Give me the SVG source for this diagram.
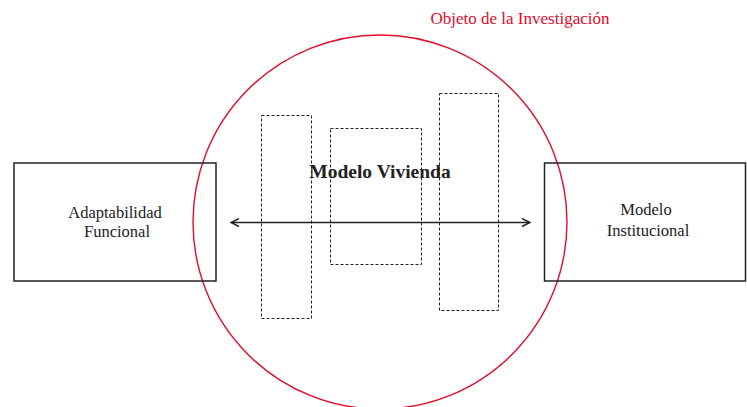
<svg xmlns="http://www.w3.org/2000/svg" width="747" height="407" viewBox="0 0 747 407">
<style>
  .box{fill:none;stroke:#222;stroke-width:1.5}
  .dash{fill:none;stroke:#222;stroke-width:1;stroke-dasharray:3,2}
  .t{font-family:"Liberation Serif","Times New Roman",serif;font-size:16.5px;fill:#222;text-anchor:middle}
  .conn{stroke:#222;stroke-width:1.5;fill:none}
</style>
<defs>
  <marker id="arr" viewBox="0 0 10 10" refX="9" refY="5" markerWidth="10" markerHeight="10" markerUnits="userSpaceOnUse" orient="auto-start-reverse">
    <path d="M1,1 L9,5 L1,9" fill="none" stroke="#222" stroke-width="1.4"/>
  </marker>
</defs>
<g id="objeto">
  <circle cx="380" cy="222" r="187" fill="none" stroke="#e30b2a" stroke-width="1.4"/>
  <text x="520" y="24" class="t" style="fill:#e30b2a;font-size:17px">Objeto de la Investigación</text>
</g>
<g id="modelo-vivienda">
  <rect class="dash" x="261.5" y="115.5" width="50" height="203"/>
  <rect class="dash" x="330.5" y="128.5" width="91" height="136"/>
  <rect class="dash" x="439.5" y="93.5" width="59" height="217"/>
  <text x="380" y="178" class="t" style="font-size:19.5px;font-weight:bold">Modelo Vivienda</text>
</g>
<g id="adaptabilidad">
  <rect class="box" x="14" y="163" width="202" height="118"/>
  <text x="115" y="218" class="t">Adaptabilidad</text>
  <text x="117" y="237" class="t">Funcional</text>
</g>
<g id="institucional">
  <rect class="box" x="544.5" y="163" width="201" height="118"/>
  <text x="646" y="215" class="t">Modelo</text>
  <text x="648" y="236" class="t">Institucional</text>
</g>
<g id="connectors">
  <line class="conn" x1="231" y1="222.5" x2="530" y2="222.5" marker-start="url(#arr)" marker-end="url(#arr)"/>
</g>
</svg>
